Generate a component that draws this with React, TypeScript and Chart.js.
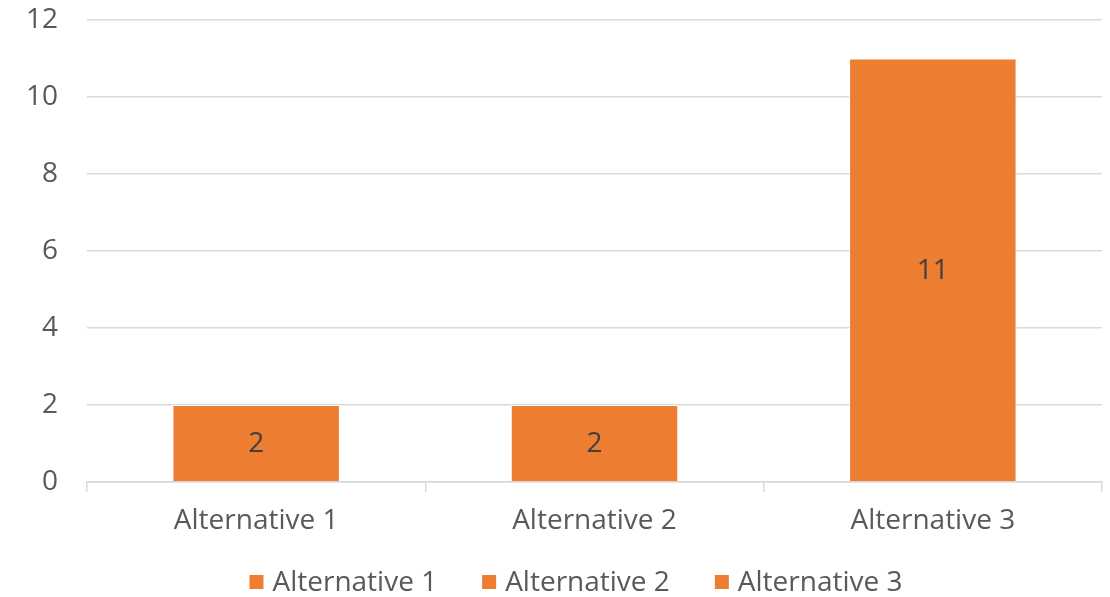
import React, { useEffect, useRef } from "react";
import { Chart, registerables } from "chart.js";

Chart.register(...registerables);

const categories = ["Alternative 1", "Alternative 2", "Alternative 3"];
const values = [2, 2, 11];
const yTicks = [0, 2, 4, 6, 8, 10, 12];

const ORANGE = "#ED7D31";
const TEXT = "#595959";
const GRID = "#D9D9D9";
const FONT = "'Open Sans', 'Liberation Sans', sans-serif";
const FONT_SIZE = 28;

// Writes each bar's value in the middle of the bar.
const valueLabels = {
  id: "valueLabels",
  afterDatasetsDraw(chart: any) {
    const ctx = chart.ctx;
    const meta = chart.getDatasetMeta(0);
    ctx.save();
    ctx.fillStyle = "#404040";
    ctx.font = `${FONT_SIZE}px ${FONT}`;
    ctx.textAlign = "center";
    ctx.textBaseline = "middle";
    meta.data.forEach((bar: any, i: number) => {
      const { x, y, base } = bar.getProps(["x", "y", "base"], true);
      ctx.fillText(String(values[i]), x, (y + base) / 2 + 1);
    });
    ctx.restore();
  },
};

// Bottom legend: one square + name per category, laid out in a centred row.
const categoryLegend = {
  id: "categoryLegend",
  afterDraw(chart: any) {
    const ctx = chart.ctx;
    const box = 14;
    const gapText = 9;
    const gapItem = 45;
    ctx.save();
    ctx.font = `${FONT_SIZE}px ${FONT}`;
    ctx.textBaseline = "middle";
    ctx.textAlign = "left";
    const widths = categories.map((c) => ctx.measureText(c).width);
    const total =
      widths.reduce((s, w) => s + box + gapText + w, 0) + gapItem * (categories.length - 1);
    const center = chart.width / 2 + 21;
    const y = chart.height - 15;
    let x = center - total / 2;
    const color = chart.data.datasets[0].backgroundColor;
    categories.forEach((c, i) => {
      ctx.fillStyle = color;
      ctx.fillRect(x, y - box / 2, box, box);
      ctx.fillStyle = TEXT;
      ctx.fillText(c, x + box + gapText, y + 1);
      x += box + gapText + widths[i] + gapItem;
    });
    ctx.restore();
  },
};

export default function App() {
  const canvasRef = useRef<HTMLCanvasElement | null>(null);

  useEffect(() => {
    if (!canvasRef.current) return;
    const chart = new Chart(canvasRef.current, {
      type: "bar",
      data: {
        labels: categories,
        datasets: [
          {
            label: "Series 1",
            data: values,
            backgroundColor: ORANGE,
            borderColor: "#FFFFFF",
            borderWidth: 1,
            categoryPercentage: 1,
            barPercentage: 0.495,
          },
        ],
      },
      options: {
        animation: false,
        responsive: false,
        maintainAspectRatio: false,
        layout: { padding: { top: 20, right: 8, left: 0, bottom: 55 } },
        plugins: {
          tooltip: { enabled: false },
          legend: { display: false },
        },
        scales: {
          x: {
            grid: {
              display: true,
              drawOnChartArea: false,
              drawTicks: true,
              tickLength: 10,
              offset: true,
              color: GRID,
              lineWidth: 1.5,
            },
            border: { display: true, color: GRID, width: 1.5 },
            ticks: {
              color: TEXT,
              font: { family: FONT, size: FONT_SIZE },
              padding: 12,
              maxRotation: 0,
            },
            afterFit: (scale: any) => {
              scale.height = 60;
            },
          },
          y: {
            min: 0,
            max: 12,
            afterBuildTicks: (scale: any) => {
              scale.ticks = yTicks.map((v) => ({ value: v }));
            },
            grid: {
              color: GRID,
              lineWidth: 1.5,
              drawTicks: false,
            },
            border: { display: false },
            ticks: {
              color: TEXT,
              font: { family: FONT, size: FONT_SIZE },
              padding: 29,
            },
            afterFit: (scale: any) => {
              scale.width = 87;
              scale.paddingTop = 0;
              scale.paddingBottom = 0;
            },
          },
        },
      },
      plugins: [valueLabels, categoryLegend],
    });
    return () => chart.destroy();
  }, []);

  return (
    <div style={{ position: "absolute", left: 0, top: 0, width: 1110, height: 597, background: "#fff" }}>
      <canvas ref={canvasRef} width={1110} height={597} />
    </div>
  );
}
